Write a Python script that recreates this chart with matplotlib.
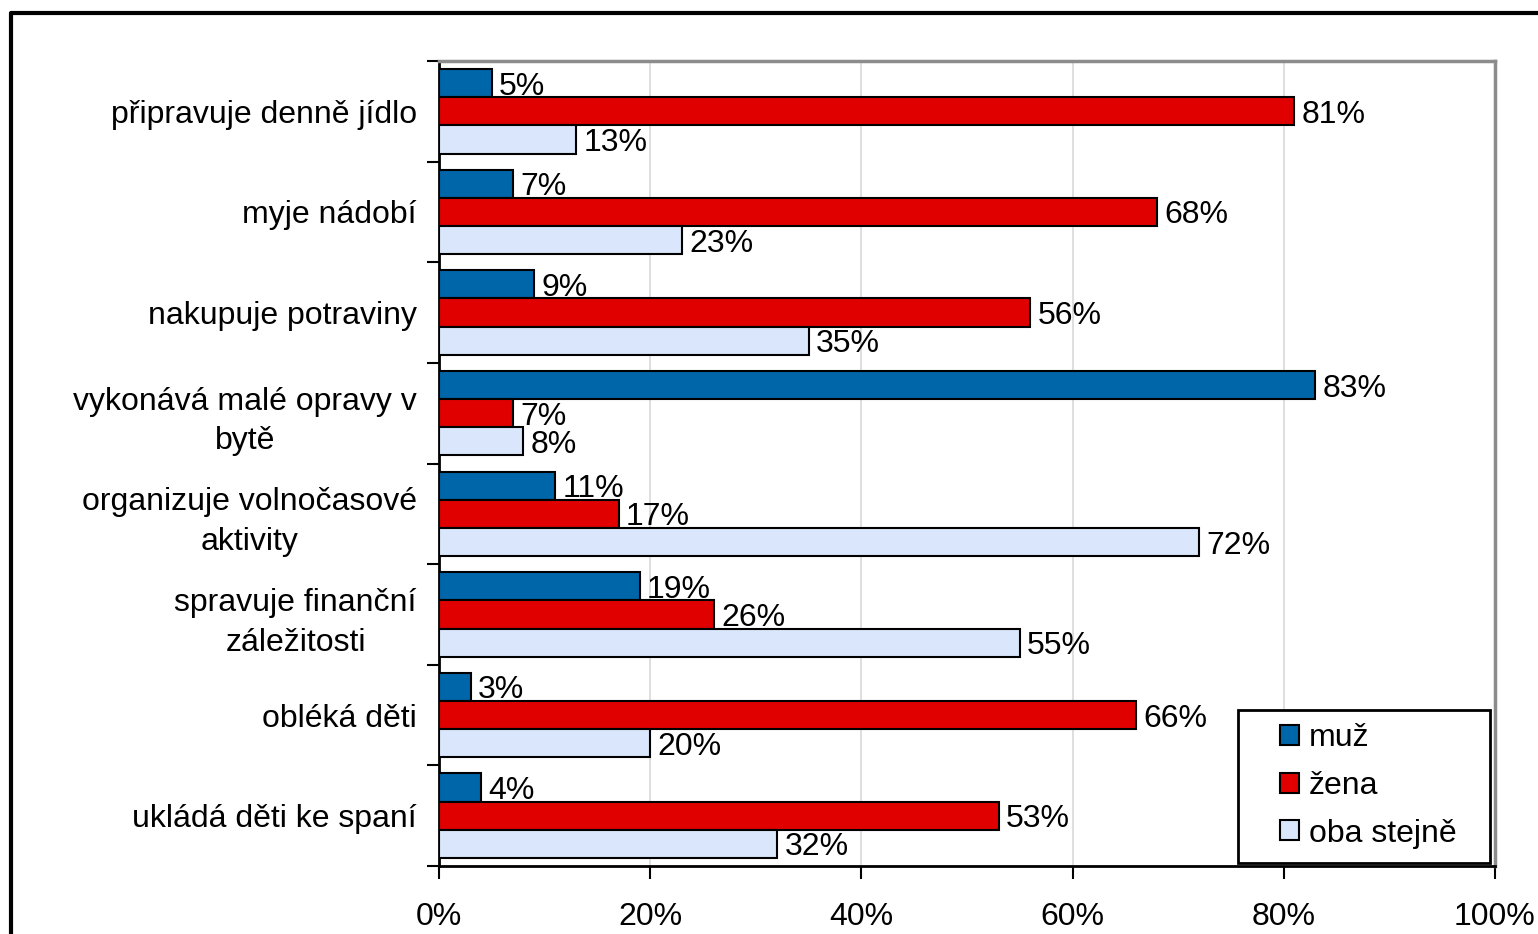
import numpy as np
import matplotlib
matplotlib.use("Agg")
import matplotlib.pyplot as plt
from matplotlib.lines import Line2D
from matplotlib.patches import Rectangle
from matplotlib.ticker import PercentFormatter

plt.rcParams['font.family'] = ['Liberation Sans', 'DejaVu Sans']

categories = [
    "připravuje denně jídlo",
    "myje nádobí",
    "nakupuje potraviny",
    "vykonává malé opravy v\nbytě",
    "organizuje volnočasové\naktivity",
    "spravuje finanční\nzáležitosti",
    "obléká děti",
    "ukládá děti ke spaní",
]
muz = [5, 7, 9, 83, 11, 19, 3, 4]
zena = [81, 68, 56, 7, 17, 26, 66, 53]
oba = [13, 23, 35, 8, 72, 55, 20, 32]
series_names = ["muž", "žena", "oba stejně"]
colors = ["#0066AA", "#E00000", "#D9E6FB"]

fs = 23
W, H = 1538, 934

fig = plt.figure(figsize=(15.38, 9.34), dpi=100)
ax = fig.add_axes([439 / W, 1 - 866 / H, (1495 - 439) / W, (866 - 61) / H])

y = np.arange(len(categories))
h = 0.28
for i, (vals, name, col) in enumerate(zip([muz, zena, oba], series_names, colors)):
    pos = y + (i - 1) * h
    ax.barh(pos, vals, height=h, color=col, edgecolor="black", linewidth=1.5, label=name, zorder=3)
    for p, v in zip(pos, vals):
        ax.text(v + 0.7, p + 0.035, f"{v}%", va="center", ha="left", fontsize=fs, zorder=4)

ax.set_xlim(0, 100)
ax.set_ylim(len(categories) - 0.5, -0.5)
ax.xaxis.set_major_formatter(PercentFormatter(decimals=0))
ax.set_xticks(range(0, 101, 20))
ax.set_yticks(y)
ax.set_yticklabels(categories, fontsize=fs, multialignment="center", linespacing=1.42)
ax.set_yticks(np.arange(-0.5, len(categories), 1), minor=True)
ax.tick_params(axis="y", which="major", length=0, pad=16)
ax.tick_params(axis="y", which="minor", length=9, width=1.5, direction="out")
ax.tick_params(axis="x", labelsize=fs, length=9, width=1.5, direction="out", pad=17)

ax.grid(axis="x", color="#D9D9D9", linewidth=1.2, zorder=0)
for s in ["left", "bottom"]:
    ax.spines[s].set_linewidth(2)
    ax.spines[s].set_color("black")
for s in ["top", "right"]:
    ax.spines[s].set_linewidth(2.5)
    ax.spines[s].set_color("#8C8C8C")

# legend box drawn separately to get the wider left padding of the original
fig.add_artist(Rectangle((1238 / W, 1 - 863 / H), 252 / W, 153 / H, transform=fig.transFigure,
                         facecolor="white", edgecolor="black", linewidth=2, zorder=5))
leg = fig.legend(*ax.get_legend_handles_labels(), loc="center", bbox_to_anchor=(1368 / W, 1 - 786 / H),
                 fontsize=fs, frameon=False, handlelength=0.6, handleheight=0.6,
                 handletextpad=0.3, labelspacing=0.55, borderpad=0, borderaxespad=0)
leg.set_zorder(6)

# outer chart frame, cut by the image edges
x0 = 11 / W
y0 = 1 - 13 / H
fig.add_artist(Line2D([x0, x0, 1.01], [-0.01, y0, y0], color="black", linewidth=3, transform=fig.transFigure))

fig.savefig("out.png", dpi=100, facecolor="white")
